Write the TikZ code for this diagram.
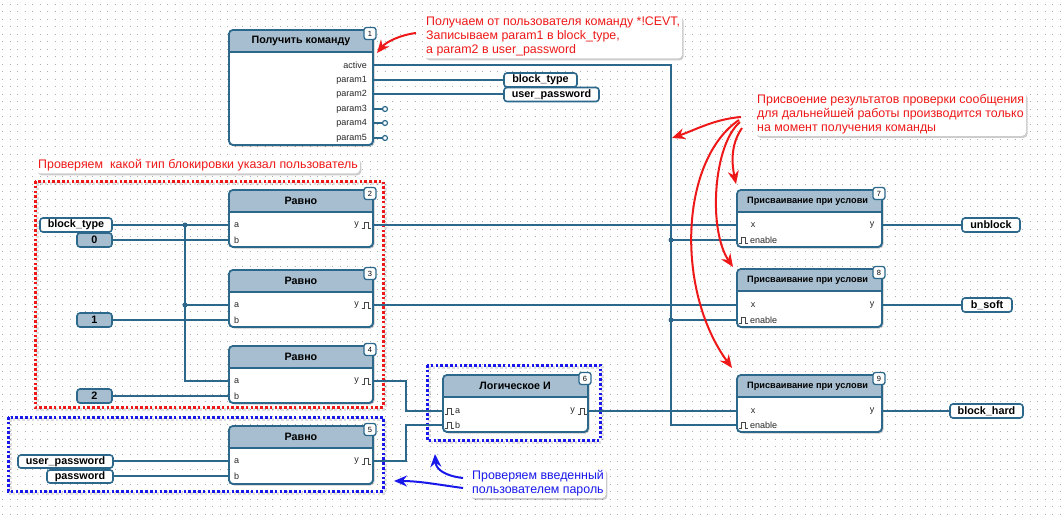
\documentclass[tikz,border=0pt]{standalone}
\usepackage{fontspec}
\setmainfont{Liberation Sans}
\usetikzlibrary{shadows,arrows.meta,fit}
\definecolor{wire}{RGB}{43,104,140}
\definecolor{hdr}{RGB}{166,190,207}
\definecolor{annred}{RGB}{238,24,24}
\definecolor{annblue}{RGB}{24,24,235}
\definecolor{gridc}{RGB}{172,172,172}
\definecolor{pinc}{RGB}{70,70,70}
\tikzset{
  wireline/.style={draw=wire, line width=1.6pt},
  tag/.style={draw=wire, line width=1.6pt, fill=white, rounded corners=3pt, minimum height=14pt, inner sep=0pt, font=\bfseries\fontsize{10.8}{12}\selectfont},
  ctag/.style={tag, fill=hdr},
  pinlbl/.style={font=\fontsize{9}{10}\selectfont, inner sep=0pt, text=black!85},
  badge/.style={draw=wire, line width=1.3pt, fill=white, rounded corners=2.5pt, minimum size=12pt, inner sep=0pt, font=\fontsize{7.5}{8}\selectfont},
  hdrtext/.style={font=\bfseries\fontsize{10.7}{12}\selectfont, inner sep=0pt},
  hdrsmall/.style={font=\bfseries\fontsize{9.2}{11}\selectfont, inner sep=0pt},
  blockbody/.style={draw=wire, line width=1.6pt, fill=white, rounded corners=4pt, inner sep=0pt, drop shadow={shadow xshift=1.5pt, shadow yshift=-1.5pt, opacity=0.22, fill=black}},
  jdot/.style={circle, fill=wire, inner sep=0pt, minimum size=5pt},
  opin/.style={circle, draw=wire, fill=white, line width=1.2pt, inner sep=0pt, minimum size=5pt},
  annbox/.style={fill=white, rounded corners=4pt, inner sep=2pt, align=left, font=\fontsize{12.4}{14}\selectfont, drop shadow={shadow xshift=1.5pt, shadow yshift=-2pt, opacity=0.2, fill=black}},
  redann/.style={annbox, text=annred},
  blueann/.style={annbox, text=annblue},
  redarr/.style={draw=annred, line width=2pt, -{Stealth[length=13pt,width=11pt]}},
  bluearr/.style={draw=annblue, line width=2pt, -{Stealth[length=13pt,width=11pt]}},
  reddot/.style={draw=annred, line width=3pt, dash pattern=on 2.6pt off 2.2pt},
  bluedot/.style={draw=annblue, line width=3pt, dash pattern=on 2.6pt off 2.2pt},
  dotshadow/.style={draw=black, opacity=0.13, line width=3pt, dash pattern=on 2.6pt off 2.2pt},
  pulse/.pic={\draw[pinc, line width=0.8pt] (-4.5,3)--(-2,3)--(-2,-3)--(2,-3)--(2,3)--(4.5,3);}
}
\newcommand{\fbblock}[6]{%
  \node[blockbody, fit={(#2,#3) (#4,#5)}] (#1) {};
  \begin{scope}
    \clip[rounded corners=4pt] (#2,#3) rectangle (#4,#5);
    \fill[hdr] (#2,#3) rectangle (#4,#3+22);
  \end{scope}
  \draw[wireline] (#2,#3+22) -- (#4,#3+22);
  \draw[wireline, rounded corners=4pt] (#2,#3) rectangle (#4,#5);
  \node[badge] (#1-n) at (#4-3,#3+3.5) {#6};
}
\begin{document}
\begin{tikzpicture}[x=1pt,y=-1pt]
\useasboundingbox (0,0) rectangle (1062,514);
\fill[white] (0,0) rectangle (1062,514);
\foreach \gy in {4,11.5,...,514}
  \draw[gridc, line width=0.9pt, dash pattern=on 0.9pt off 6.6pt] (2,\gy) -- (1062,\gy);

% dotted group frames
\draw[dotshadow] (37,183) rectangle (385,409);
\draw[reddot] (35,181) rectangle (383,407);
\draw[dotshadow] (10,419) rectangle (385,493);
\draw[bluedot] (8,417) rectangle (383,491);
\draw[dotshadow] (429,367) rectangle (602,442);
\draw[bluedot] (427,365) rectangle (600,440);

% blocks
\fbblock{b1}{229}{30}{373}{145}{1}
\node[hdrtext] (b1-t) at (301,41) {Получить команду};
\fbblock{b2}{229}{190}{373}{247}{2}
\node[hdrtext] (b2-t) at (301,201) {Равно};
\fbblock{b3}{229}{270}{373}{327}{3}
\node[hdrtext] (b3-t) at (301,281) {Равно};
\fbblock{b4}{229}{346}{373}{403}{4}
\node[hdrtext] (b4-t) at (301,357) {Равно};
\fbblock{b5}{229}{426}{373}{484}{5}
\node[hdrtext] (b5-t) at (301,437) {Равно};
\fbblock{b6}{443}{375}{588}{432}{6}
\node[hdrtext] (b6-t) at (515,386) {Логическое И};
\fbblock{b7}{737}{190}{882}{247}{7}
\node[hdrsmall, anchor=west] (b7-t) at (747,201) {Присваивание при услови};
\fbblock{b8}{737}{269}{882}{327}{8}
\node[hdrsmall, anchor=west] (b8-t) at (747,280) {Присваивание при услови};
\fbblock{b9}{737}{375}{882}{432}{9}
\node[hdrsmall, anchor=west] (b9-t) at (747,386) {Присваивание при услови};

% pin coordinates
\coordinate (b1-active) at (373,65);
\coordinate (b1-p1) at (373,80);
\coordinate (b1-p2) at (373,94);
\coordinate (b1-p3) at (373,109);
\coordinate (b1-p4) at (373,123);
\coordinate (b1-p5) at (373,138);
\coordinate (b2-a) at (229,225); \coordinate (b2-b) at (229,240); \coordinate (b2-y) at (373,225);
\coordinate (b3-a) at (229,305); \coordinate (b3-b) at (229,320); \coordinate (b3-y) at (373,305);
\coordinate (b4-a) at (229,381); \coordinate (b4-b) at (229,396); \coordinate (b4-y) at (373,381);
\coordinate (b5-a) at (229,461); \coordinate (b5-b) at (229,476); \coordinate (b5-y) at (373,461);
\coordinate (b6-a) at (443,411); \coordinate (b6-b) at (443,425); \coordinate (b6-y) at (588,411);
\coordinate (b7-x) at (737,225); \coordinate (b7-en) at (737,240); \coordinate (b7-y) at (882,225);
\coordinate (b8-x) at (737,305); \coordinate (b8-en) at (737,320); \coordinate (b8-y) at (882,305);
\coordinate (b9-x) at (737,411); \coordinate (b9-en) at (737,425); \coordinate (b9-y) at (882,411);

% pin labels block 1
\node[pinlbl, anchor=east] (b1-l0) at (367,65) {active};
\node[pinlbl, anchor=east] (b1-l1) at (367,80) {param1};
\node[pinlbl, anchor=east] (b1-l2) at (367,94) {param2};
\node[pinlbl, anchor=east] (b1-l3) at (367,109) {param3};
\node[pinlbl, anchor=east] (b1-l4) at (367,123) {param4};
\node[pinlbl, anchor=east] (b1-l5) at (367,138) {param5};

% pin labels blocks 2-5
\foreach \bn/\ya/\yb in {2/225/240, 3/305/320, 4/381/396, 5/461/476}{
  \node[pinlbl, anchor=west] (b\bn-la) at (234,\ya) {a};
  \node[pinlbl, anchor=west] (b\bn-lb) at (234,\yb) {b};
  \node[pinlbl, anchor=east] (b\bn-ly) at (359,\ya) {y};
  \pic at (366,\ya) {pulse};
}
% block 6
\pic at (449,411) {pulse};
\node[pinlbl, anchor=west] (b6-la) at (455,411) {a};
\pic at (449,425) {pulse};
\node[pinlbl, anchor=west] (b6-lb) at (455,425) {b};
\node[pinlbl, anchor=east] (b6-ly) at (575,411) {y};
\pic at (582,411) {pulse};
% blocks 7-9
\foreach \bn/\yx/\ye in {7/225/240, 8/305/320, 9/411/425}{
  \node[pinlbl] (b\bn-lx) at (753,\yx) {x};
  \node[pinlbl] (b\bn-ly) at (872,\yx) {y};
  \pic at (743.5,\ye) {pulse};
  \node[pinlbl, anchor=west] (b\bn-le) at (750,\ye) {enable};
}

% tags
\node[tag, minimum width=73pt] (bt1) at (540.5,80) {block\_type};
\node[tag, minimum width=95pt] (up1) at (551.5,94.5) {user\_password};
\node[tag, minimum width=72pt] (bt2) at (76,225) {block\_type};
\node[ctag, minimum width=35pt] (c0) at (94.5,240) {0};
\node[ctag, minimum width=35pt] (c1) at (94.5,320) {1};
\node[ctag, minimum width=35pt] (c2) at (94.5,396) {2};
\node[tag, minimum width=95pt, minimum height=13pt] (up2) at (65.5,461.5) {user\_password};
\node[tag, minimum width=66pt, minimum height=13pt] (pw) at (80,476.5) {password};
\node[tag, minimum width=58pt] (ub) at (991,225) {unblock};
\node[tag, minimum width=50pt] (bs) at (987,305) {b\_soft};
\node[tag, minimum width=73pt] (bh) at (986.5,411) {block\_hard};

% unused outputs
\node[opin] (o3) at (385,109) {};
\node[opin] (o4) at (385,123) {};
\node[opin] (o5) at (385,138) {};
\draw[wireline] (b1-p3) -- (o3.west);
\draw[wireline] (b1-p4) -- (o4.west);
\draw[wireline] (b1-p5) -- (o5.west);

% wires from block 1
\draw[wireline] (b1-p1) -- (bt1.west);
\draw[wireline] (b1-p2) -- (up1.west |- b1-p2);
\coordinate (cA) at (671,65);
\coordinate (cB) at (671,425);
\coordinate (j7) at (671,240);
\coordinate (j8) at (671,320);
\draw[wireline] (b1-active) -- (cA) -- (cB) -- (b9-en);
\draw[wireline] (j7) -- (b7-en);
\draw[wireline] (j8) -- (b8-en);
\node[jdot] (jd7) at (j7) {};
\node[jdot] (jd8) at (j8) {};

% left net
\coordinate (j2) at (185,225);
\coordinate (j3) at (185,305);
\coordinate (c4) at (185,381);
\draw[wireline] (bt2.east) -- (b2-a);
\draw[wireline] (j2) -- (c4) -- (b4-a);
\draw[wireline] (j3) -- (b3-a);
\node[jdot] (jd2) at (j2) {};
\node[jdot] (jd3) at (j3) {};
\draw[wireline] (c0.east) -- (b2-b);
\draw[wireline] (c1.east) -- (b3-b);
\draw[wireline] (c2.east) -- (b4-b);
\draw[wireline] (up2.east |- b5-a) -- (b5-a);
\draw[wireline] (pw.east |- b5-b) -- (b5-b);

% to logic AND
\coordinate (k4a) at (406,381); \coordinate (k4b) at (406,411);
\coordinate (k5a) at (406,461); \coordinate (k5b) at (406,425);
\draw[wireline] (b4-y) -- (k4a) -- (k4b) -- (b6-a);
\draw[wireline] (b5-y) -- (k5a) -- (k5b) -- (b6-b);

% to assignment blocks
\draw[wireline] (b2-y) -- (b7-x);
\draw[wireline] (b3-y) -- (b8-x);
\draw[wireline] (b6-y) -- (b9-x);
\draw[wireline] (b7-y) -- (ub.west);
\draw[wireline] (b8-y) -- (bs.west);
\draw[wireline] (b9-y) -- (bh.west);

% annotations
\node[redann, anchor=north west] (ann1) at (424,15) {Получаем от пользователя команду *!CEVT,\\Записываем param1 в block\_type,\\а param2 в user\_password};
\node[redann, anchor=west] (ann3) at (36,165.5) {Проверяем\ \ какой тип блокировки указал пользователь};
\node[redann, anchor=north west] (ann2) at (755,92) {Присвоение результатов проверки сообщения\\для дальнейшей работы производится только\\на момент получения команды};
\node[blueann, anchor=north west] (ann4) at (470,468) {Проверяем введенный\\пользователем пароль};

\coordinate (r1s) at (416,33);
\coordinate (r1t) at (377,53);
\draw[redarr] (r1s) .. controls (400,35) and (386,42) .. (r1t);

\coordinate (r2s) at (741,117);
\coordinate (r3s) at (742,128);
\coordinate (r4s) at (740,122);
\coordinate (r5s) at (739,120);
\coordinate (r2t) at (672,138);
\coordinate (r3t) at (736,184);
\coordinate (r4t) at (733,267);
\coordinate (r5t) at (732,368);
\draw[redarr] (r2s) .. controls (715,119) and (695,130) .. (r2t);
\draw[redarr] (r3s) .. controls (730,145) and (732,165) .. (r3t);
\draw[redarr] (r4s) .. controls (713,145) and (708,230) .. (r4t);
\draw[redarr] (r5s) .. controls (680,160) and (675,290) .. (r5t);

\coordinate (bl1s) at (463,478);
\coordinate (bl1t) at (435,454);
\coordinate (bl2s) at (463,488);
\coordinate (bl2t) at (394,481);
\draw[bluearr] (bl1s) .. controls (446,476) and (436,470) .. (bl1t);
\draw[bluearr] (bl2s) .. controls (440,485) and (420,481) .. (bl2t);
\end{tikzpicture}
\end{document}
